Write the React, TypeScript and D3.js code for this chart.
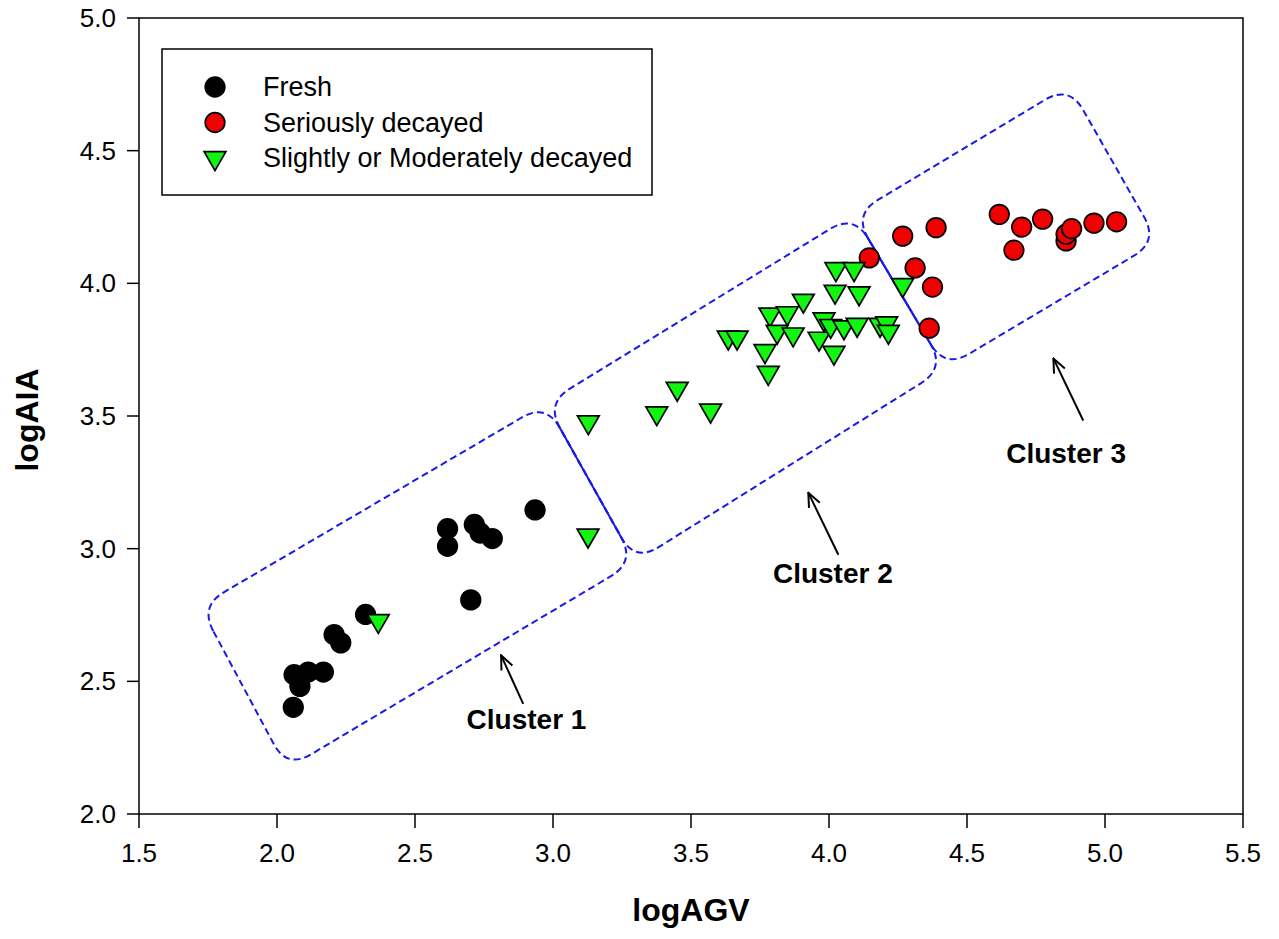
import React from "react";
import * as d3 from "d3";

// [logAGV, logAIA]
const fresh = [
  [2.059, 2.402], [2.062, 2.525], [2.083, 2.481], [2.113, 2.535], [2.168, 2.535],
  [2.207, 2.676], [2.231, 2.645], [2.321, 2.752], [2.618, 3.075], [2.618, 3.009],
  [2.715, 3.091], [2.736, 3.059], [2.780, 3.038], [2.702, 2.807], [2.935, 3.146],
];

const serious = [
  [4.146, 4.096], [4.267, 4.178], [4.388, 4.210], [4.312, 4.058], [4.375, 3.986],
  [4.363, 3.831], [4.617, 4.260], [4.698, 4.212], [4.774, 4.242], [4.670, 4.125],
  [4.859, 4.160], [4.859, 4.185], [4.879, 4.206], [4.960, 4.227], [5.042, 4.232],
];

const slight = [
  [2.367, 2.728], [3.127, 3.050], [3.128, 3.477], [3.376, 3.511], [3.450, 3.603],
  [3.571, 3.521], [3.635, 3.796], [3.667, 3.796], [3.768, 3.745], [3.780, 3.663],
  [3.786, 3.883], [3.849, 3.888], [3.812, 3.818], [3.870, 3.808], [3.907, 3.935],
  [3.964, 3.792], [3.982, 3.865], [4.006, 3.840], [4.018, 3.739], [4.054, 3.835],
  [4.102, 3.844], [4.022, 3.969], [4.109, 3.963], [4.025, 4.054], [4.091, 4.054],
  [4.185, 3.844], [4.209, 3.850], [4.215, 3.818], [4.267, 3.994],
];

const xTicks = [1.5, 2.0, 2.5, 3.0, 3.5, 4.0, 4.5, 5.0, 5.5];
const yTicks = [2.0, 2.5, 3.0, 3.5, 4.0, 4.5, 5.0];

const legendItems = ["Fresh", "Seriously decayed", "Slightly or Moderately decayed"];

// cluster outlines, corners in data units (TL, TR, BR, BL)
const clusterBoxes = [
  [[1.721, 2.783], [2.975, 3.548], [3.297, 2.950], [2.036, 2.171]],
  [[2.975, 3.548], [4.090, 4.260], [4.420, 3.680], [3.297, 2.950]],
  [[4.090, 4.260], [4.870, 4.746], [5.192, 4.158], [4.420, 3.680]],
];

const clusterNames = ["Cluster 1", "Cluster 2", "Cluster 3"];
// label position (center, baseline), arrow tail, arrow tip
const clusterLabelPos = [[2.904, 2.320], [4.014, 2.870], [4.859, 3.321]];
const arrowTail = [[2.892, 2.415], [4.034, 2.977], [4.921, 3.483]];
const arrowTip = [[2.812, 2.598], [3.925, 3.211], [4.813, 3.717]];

const W = 1279;
const H = 939;
const left = 139, right = 1243, top = 18, bottom = 814;
const font = "'Liberation Sans', Arial, sans-serif";
const blue = "#1a1ae8";

function roundedPath(pts: number[][], r: number) {
  const n = pts.length;
  let d = "";
  for (let i = 0; i < n; i++) {
    const p = pts[i];
    const a = pts[(i - 1 + n) % n];
    const b = pts[(i + 1) % n];
    const la = Math.hypot(a[0] - p[0], a[1] - p[1]);
    const lb = Math.hypot(b[0] - p[0], b[1] - p[1]);
    const p1 = [p[0] + (r * (a[0] - p[0])) / la, p[1] + (r * (a[1] - p[1])) / la];
    const p2 = [p[0] + (r * (b[0] - p[0])) / lb, p[1] + (r * (b[1] - p[1])) / lb];
    d += (i === 0 ? "M" : "L") + p1[0] + "," + p1[1];
    d += "Q" + p[0] + "," + p[1] + " " + p2[0] + "," + p2[1];
  }
  return d + "Z";
}

export default function App() {
  const x = d3.scaleLinear().domain([1.5, 5.5]).range([left, right]);
  const y = d3.scaleLinear().domain([2, 5]).range([bottom, top]);

  const tri = d3.symbol().type(d3.symbolTriangle).size(205)();
  const r = 9.8;

  const marker = (k: number, cx: number, cy: number, key: any) => {
    if (k === 2)
      return (
        <path key={key} d={tri!} transform={`translate(${cx},${cy}) rotate(180)`}
          fill="#11f511" stroke="#000" strokeWidth={1.7} />
      );
    return (
      <circle key={key} cx={cx} cy={cy} r={r} fill={k === 0 ? "#000" : "#f00000"}
        stroke="#000" strokeWidth={1.7} />
    );
  };

  const boxes = clusterBoxes.map((c) => c.map((p) => [x(p[0]), y(p[1])]));

  return (
    <svg width={W} height={H} style={{ position: "absolute", left: 0, top: 0, background: "#fff" }}
      fontFamily={font}>
      <rect x={0} y={0} width={W} height={H} fill="#fff" />

      {/* cluster outlines */}
      {boxes.map((b, i) => (
        <path key={i} d={roundedPath(b, 28)} fill="none" stroke={blue}
          strokeWidth={2} strokeDasharray="7,4" />
      ))}
      {/* shared borders look solid */}
      {[[boxes[0][1], boxes[0][2]], [boxes[1][1], boxes[1][2]]].map((s, i) => {
        const [p, q] = s;
        const len = Math.hypot(q[0] - p[0], q[1] - p[1]);
        const ux = (q[0] - p[0]) / len, uy = (q[1] - p[1]) / len;
        return (
          <line key={i} x1={p[0] + ux * 22} y1={p[1] + uy * 22} x2={q[0] - ux * 22} y2={q[1] - uy * 22}
            stroke={blue} strokeWidth={2} />
        );
      })}

      {/* points */}
      {fresh.map((d, i) => marker(0, x(d[0]), y(d[1]), "f" + i))}
      {serious.map((d, i) => marker(1, x(d[0]), y(d[1]), "s" + i))}
      {slight.map((d, i) => marker(2, x(d[0]), y(d[1]), "g" + i))}

      {/* annotations */}
      <defs>
        <marker id="arr" viewBox="0 0 16 16" refX={15} refY={8} markerWidth={16} markerHeight={16}
          markerUnits="userSpaceOnUse" orient="auto">
          <path d="M1,2 L15,8 L1,14" fill="none" stroke="#000" strokeWidth={2} />
        </marker>
      </defs>
      {clusterNames.map((name, i) => (
        <g key={name}>
          <line x1={x(arrowTail[i][0])} y1={y(arrowTail[i][1])} x2={x(arrowTip[i][0])} y2={y(arrowTip[i][1])}
            stroke="#000" strokeWidth={2} markerEnd="url(#arr)" />
          <text x={x(clusterLabelPos[i][0])} y={y(clusterLabelPos[i][1])} textAnchor="middle"
            fontSize={28} fontWeight="bold">{name}</text>
        </g>
      ))}

      {/* frame */}
      <rect x={left} y={top} width={right - left} height={bottom - top} fill="none" stroke="#000" strokeWidth={1.5} />

      {/* x axis */}
      {xTicks.map((t) => (
        <g key={t}>
          <line x1={x(t)} x2={x(t)} y1={bottom} y2={bottom + 14} stroke="#000" strokeWidth={1.5} />
          <text x={x(t)} y={bottom + 48} textAnchor="middle" fontSize={26}>{t.toFixed(1)}</text>
        </g>
      ))}
      {/* y axis */}
      {yTicks.map((t) => (
        <g key={t}>
          <line x1={left - 12} x2={left} y1={y(t)} y2={y(t)} stroke="#000" strokeWidth={1.5} />
          <text x={left - 23} y={y(t)} dy="0.35em" textAnchor="end" fontSize={26}>{t.toFixed(1)}</text>
        </g>
      ))}

      <text x={(left + right) / 2} y={bottom + 107} textAnchor="middle" fontSize={32} fontWeight="bold">logAGV</text>
      <text transform={`translate(38,420) rotate(-90)`} textAnchor="middle"
        fontSize={32} fontWeight="bold">logAIA</text>

      {/* legend */}
      <rect x={162} y={49} width={490} height={146} fill="#fff" stroke="#000" strokeWidth={1.5} />
      {legendItems.map((name, i) => (
        <g key={name}>
          {marker(i, 215, 87 + i * 35.5, "l" + i)}
          <text x={263} y={87 + i * 35.5} dy="0.35em" fontSize={27}>{name}</text>
        </g>
      ))}
    </svg>
  );
}
